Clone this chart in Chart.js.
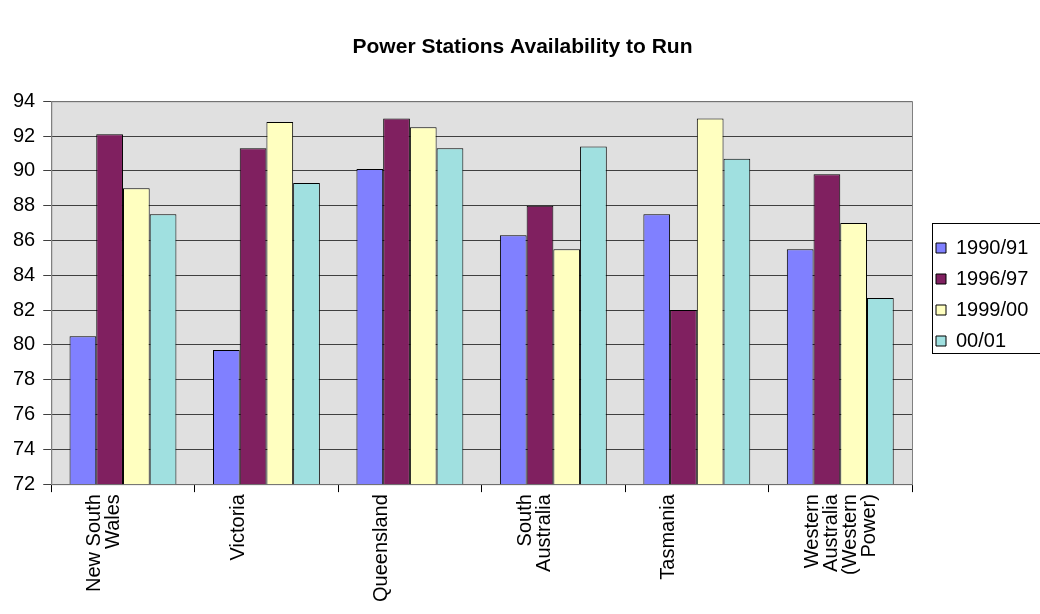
<!DOCTYPE html>
<html>
<head>
<meta charset="utf-8">
<script src="https://cdn.jsdelivr.net/npm/chart.js@4/dist/chart.umd.min.js"></script>
<style>
  html, body { margin: 0; padding: 0; background: #fff; }
  #wrap { width: 1040px; height: 614px; }
</style>
</head>
<body>
<div id="wrap"><canvas id="grafico"></canvas></div>
<script>
// dados
const regioes = [
    ['New South', 'Wales'],
    ['Victoria'],
    ['Queensland'],
    ['South', 'Australia'],
    ['Tasmania'],
    ['Western', 'Australia', '(Western', 'Power)']
];
const anos = ['1990/91', '1996/97', '1999/00', '00/01'];
const valores1990 = [80.5, 79.7, 90.1, 86.3, 87.5, 85.5];
const valores1996 = [92.1, 91.3, 93.0, 88.0, 82.0, 89.8];
const valores1999 = [89.0, 92.8, 92.5, 85.5, 93.0, 87.0];
const valores0001 = [87.5, 89.3, 91.3, 91.4, 90.7, 82.7];
const cores = ['#8080FF', '#802060', '#FFFFC0', '#A0E0E0'];

const fonte = 'Arial, "Liberation Sans", sans-serif';

// legenda: largura fixa à direita, posição do primeiro item
const LARGURA_LEGENDA = 128;
const TOPO_LEGENDA = 227;
const DESLOCA_LEGENDA = 13;

const ajusteLegenda = {
    id: 'ajusteLegenda',
    beforeLayout(chart) {
        const legend = chart.legend;
        if (legend && !legend._ajustada) {
            const fitOriginal = legend.fit;
            legend.fit = function () {
                fitOriginal.call(this);
                this.width = LARGURA_LEGENDA;
            };
            legend._ajustada = true;
        }
    },
    afterLayout(chart) {
        const legend = chart.legend;
        const h = legend.bottom - legend.top;
        legend.left += DESLOCA_LEGENDA;
        legend.top = TOPO_LEGENDA;
        legend.bottom = TOPO_LEGENDA + h;
    }
};

// fundo cinza e moldura da área do gráfico, moldura da legenda
const molduras = {
    id: 'molduras',
    beforeDraw(chart) {
        const { ctx, chartArea: a } = chart;
        ctx.save();
        ctx.fillStyle = '#E0E0E0';
        ctx.fillRect(a.left, a.top, a.right - a.left, a.bottom - a.top);
        ctx.restore();
    },
    afterDraw(chart) {
        const { ctx, chartArea: a, legend } = chart;
        ctx.save();
        ctx.strokeStyle = '#808080';
        ctx.lineWidth = 1;
        ctx.strokeRect(a.left + 0.5, a.top + 0.5, a.right - a.left, a.bottom - a.top);

        const caixas = legend.legendHitBoxes;
        if (caixas && caixas.length) {
            const primeira = caixas[0];
            const ultima = caixas[caixas.length - 1];
            const y1 = primeira.top + primeira.height / 2 - 25;
            const y2 = ultima.top + ultima.height / 2 + 12;
            const x1 = primeira.left - 4;
            ctx.strokeStyle = '#000';
            ctx.strokeRect(Math.round(x1) + 0.5, Math.round(y1) + 0.5, 200, Math.round(y2 - y1));
        }
        ctx.restore();
    }
};

const series = [valores1990, valores1996, valores1999, valores0001];

new Chart(document.getElementById('grafico'), {
    type: 'bar',
    data: {
        labels: regioes,
        datasets: series.map((dados, i) => ({
            label: anos[i],
            data: dados,
            backgroundColor: cores[i],
            borderColor: '#000',
            borderWidth: 1,
            borderSkipped: 'bottom',
            categoryPercentage: 0.745,
            barPercentage: 1.0
        }))
    },
    options: {
        responsive: true,
        maintainAspectRatio: false,
        animation: false,
        layout: { padding: { left: 5, right: 0, bottom: 10 } },
        plugins: {
            title: {
                display: true,
                text: 'Power Stations Availability to Run',
                color: '#000',
                font: { family: fonte, size: 21, weight: 'bold' },
                padding: { top: 35, bottom: 41 }
            },
            legend: {
                position: 'right',
                align: 'start',
                labels: {
                    color: '#000',
                    font: { family: fonte, size: 20 },
                    boxWidth: 10,
                    boxHeight: 10,
                    padding: 11
                }
            },
            tooltip: { enabled: false }
        },
        scales: {
            x: {
                grid: {
                    offset: true,
                    drawOnChartArea: false,
                    color: '#000',
                    tickLength: 8
                },
                border: { color: '#000' },
                ticks: {
                    color: '#000',
                    font: { family: fonte, size: 20, lineHeight: 0.95 },
                    minRotation: 90,
                    maxRotation: 90,
                    autoSkip: false,
                    labelOffset: -28,
                    padding: 2
                }
            },
            y: {
                min: 72,
                max: 94,
                grid: { color: '#404040', tickLength: 8 },
                border: { color: '#808080' },
                ticks: {
                    stepSize: 2,
                    color: '#000',
                    font: { family: fonte, size: 20 },
                    padding: 8
                }
            }
        }
    },
    plugins: [ajusteLegenda, molduras]
});
</script>
</body>
</html>
